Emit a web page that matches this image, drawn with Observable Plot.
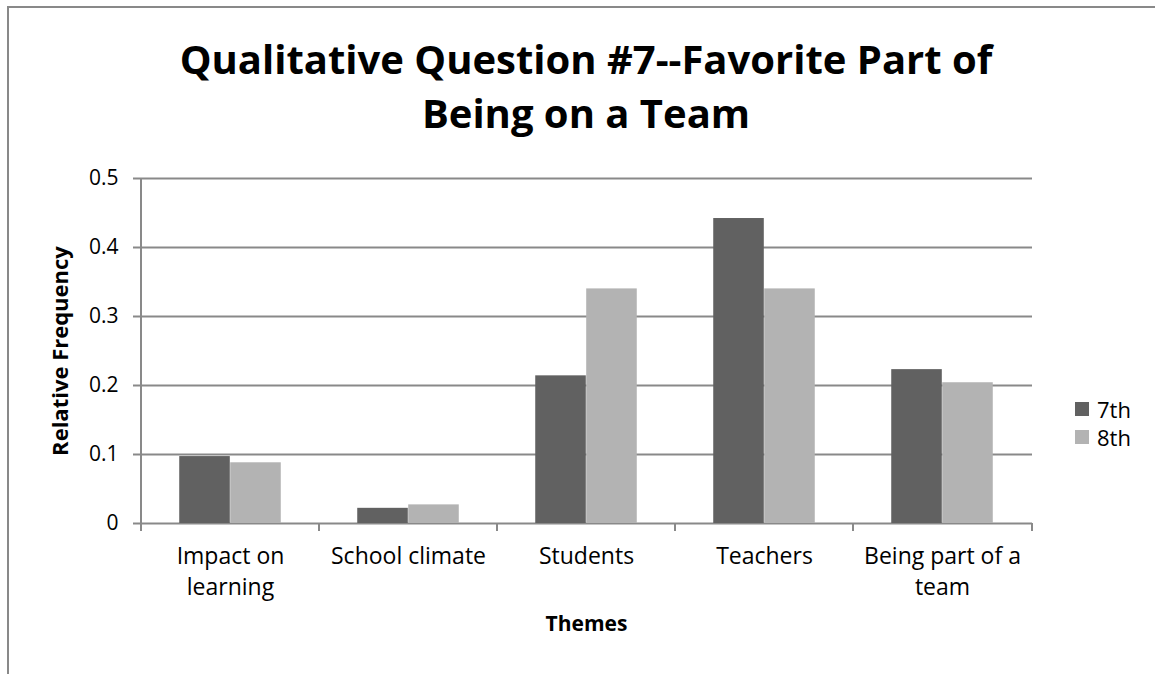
<!DOCTYPE html>
<html><head><meta charset="utf-8">
<script src="https://cdn.jsdelivr.net/npm/d3@7"></script>
<script src="https://cdn.jsdelivr.net/npm/@observablehq/plot@0.6"></script>
<style>
body{margin:0;background:#fff;font-family:"Open Sans",sans-serif;color:#000}
#page{position:relative;width:1155px;height:674px;overflow:hidden;background:#fff}
#border{position:absolute;left:7px;top:6px;width:1200px;height:700px;border-left:2px solid #898989;border-top:2px solid #898989}
#title{position:absolute;left:0;top:32px;width:1172px;text-align:center;font-weight:700;font-size:40px;line-height:54px}
#chart{position:absolute;left:0;top:160px}
.leg{position:absolute;left:1075px;display:flex;align-items:center;font-size:22px;height:28px}
.sw{width:14px;height:14px;margin-right:8px}
</style></head>
<body><div id="page"><div id="border"></div><div id="title"></div><div id="chart"></div></div>
<script>
const titleLines = ["Qualitative Question #7--Favorite Part of", "Being on a Team"];
const themes = ["Impact on learning", "School climate", "Students", "Teachers", "Being part of a team"];
const themeLabels = ["Impact on\nlearning", "School climate", "Students", "Teachers", "Being part of a\nteam"];
const grade7 = [0.097, 0.022, 0.214, 0.442, 0.223];
const grade8 = [0.088, 0.027, 0.340, 0.340, 0.204];
const series = ["7th", "8th"];
const seriesColors = ["#616161", "#b3b3b3"];
const yTicks = [0, 0.1, 0.2, 0.3, 0.4, 0.5];
const yTickLabels = ["0", "0.1", "0.2", "0.3", "0.4", "0.5"];
const yLabel = "Relative Frequency";
const xLabel = "Themes";

document.getElementById("title").innerHTML = titleLines.join("<br>");

const W = 1155, H = 514, ML = 140, MR = 123, MT = 18, MB = 151;
const band = (W - ML - MR) / themes.length;
const barW = band / 3.5, gap = barW * 0.75;
const gridColor = "#898989";

const rows7 = themes.map((t, i) => ({theme: t, value: grade7[i]}));
const rows8 = themes.map((t, i) => ({theme: t, value: grade8[i]}));
const labelRows = themes.map((t, i) => ({theme: t, label: themeLabels[i]}));

function axisLines(index, scales, values, dims) {
  const g = d3.create("svg:g").attr("stroke", gridColor).attr("stroke-width", 2);
  const y0 = scales.y(0), yTop = scales.y(yTicks[yTicks.length - 1]);
  const edges = themes.map(t => scales.x(t));
  edges.push(dims.width - dims.marginRight);
  g.append("line").attr("x1", edges[0]).attr("x2", edges[0]).attr("y1", yTop).attr("y2", y0 + 8);
  for (const e of edges.slice(1)) {
    g.append("line").attr("x1", e).attr("x2", e).attr("y1", y0).attr("y2", y0 + 8);
  }
  return g.node();
}

const chart = Plot.plot({
  width: W, height: H,
  marginLeft: ML, marginRight: MR, marginTop: MT, marginBottom: MB,
  style: {fontFamily: "'Open Sans', sans-serif", color: "#000", background: "transparent"},
  x: {type: "band", domain: themes, padding: 0, axis: null},
  y: {domain: [0, 0.5], axis: null},
  marks: [
    Plot.ruleY(yTicks, {stroke: gridColor, strokeWidth: 2, insetLeft: -7}),
    Plot.barY(rows7, {x: "theme", y: "value", fill: seriesColors[0], insetLeft: gap, insetRight: band - gap - barW}),
    Plot.barY(rows8, {x: "theme", y: "value", fill: seriesColors[1], insetLeft: gap + barW, insetRight: gap}),
    axisLines,
    Plot.text(yTicks, {y: d => d, text: (d, i) => yTickLabels[i], frameAnchor: "left", textAnchor: "end", dx: -22, fontSize: 21, fill: "#000"}),
    Plot.text(labelRows, {x: "theme", text: "label", frameAnchor: "bottom", lineAnchor: "top", dy: 18, fontSize: 23, lineHeight: 1.35, fill: "#000"}),
    Plot.text([yLabel], {frameAnchor: "left", textAnchor: "middle", rotate: -90, dx: -80, fontSize: 22, fontWeight: "bold", fill: "#000"}),
    Plot.text([xLabel], {frameAnchor: "bottom", dy: 107, fontSize: 21, fontWeight: "bold", fill: "#000"})
  ]
});
document.getElementById("chart").appendChild(chart);

const page = document.getElementById("page");
const legTops = [395, 423];
series.forEach((s, i) => {
  const d = document.createElement("div");
  d.className = "leg";
  d.style.top = legTops[i] + "px";
  d.innerHTML = `<span class="sw" style="background:${seriesColors[i]}"></span><span>${s}</span>`;
  page.appendChild(d);
});
</script>
</body></html>
